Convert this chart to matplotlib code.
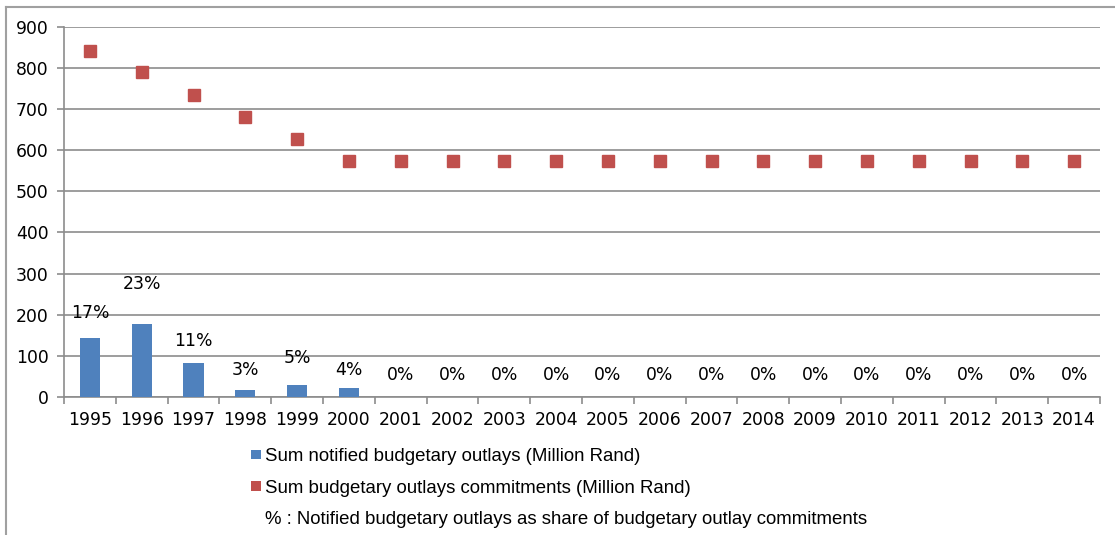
import matplotlib
matplotlib.use("Agg")
import matplotlib.pyplot as plt
from matplotlib.patches import Patch
from matplotlib.lines import Line2D

# Data
years = [str(y) for y in range(1995, 2015)]
notified = [144, 178, 83, 17, 28, 21, 0, 0, 0, 0, 0, 0, 0, 0, 0, 0, 0, 0, 0, 0]
commitments = [842, 789, 735, 681, 628, 573, 573, 573, 573, 573,
               573, 573, 573, 573, 573, 573, 573, 573, 573, 573]
share_labels = ["17%", "23%", "11%", "3%", "5%", "4%", "0%", "0%", "0%", "0%",
                "0%", "0%", "0%", "0%", "0%", "0%", "0%", "0%", "0%", "0%"]
# height where each percentage label sits
label_y = [204, 275, 136, 66, 95, 66, 53, 53, 53, 53,
           53, 53, 53, 53, 53, 53, 53, 53, 53, 53]

blue = "#4F81BD"
red = "#C0504D"
grid_col = "#8C8C8C"
fs = 12.4

plt.rcParams['font.family'] = ['DejaVu Sans']
fig = plt.figure(figsize=(11.15, 5.35), dpi=100)
ax = fig.add_axes([64 / 1115, 1 - 397 / 535, (1100 - 64) / 1115, (397 - 26.7) / 535])

x = list(range(len(years)))
ax.bar(x, notified, width=0.39, color=blue, zorder=3)
ax.plot(x, commitments, linestyle="none", marker="s", markersize=8,
        color=red, zorder=4)

for xi, lab, ly in zip(x, share_labels, label_y):
    ax.text(xi, ly, lab, ha="center", va="center", fontsize=fs, zorder=5)

ax.set_xlim(-0.5, len(years) - 0.5)
ax.set_ylim(0, 900)
ax.set_yticks(range(0, 901, 100))
ax.yaxis.grid(True, color=grid_col, linewidth=1.2, zorder=0)

ax.set_xticks([i - 0.5 for i in range(len(years) + 1)])
ax.set_xticklabels([])
ax.set_xticks(x, minor=True)
ax.set_xticklabels(years, minor=True)
ax.tick_params(axis="x", which="major", length=5, color=grid_col, width=1.2)
ax.tick_params(axis="x", which="minor", length=0, pad=10, labelsize=fs)
ax.tick_params(axis="y", length=5, color=grid_col, width=1.2, pad=6, labelsize=fs)

for side in ["top", "right"]:
    ax.spines[side].set_visible(False)
for side in ["left", "bottom"]:
    ax.spines[side].set_color(grid_col)
    ax.spines[side].set_linewidth(1.2)

handles = [Patch(facecolor=blue), Patch(facecolor=red), Patch(facecolor="none", edgecolor="none")]
labels = ["Sum notified budgetary outlays (Million Rand)",
          "Sum budgetary outlays commitments (Million Rand)",
          "% : Notified budgetary outlays as share of budgetary outlay commitments"]
fig.legend(handles, labels, loc="upper left", bbox_to_anchor=(251 / 1115, 1 - 448 / 535),
           frameon=False, handlelength=0.55, handleheight=0.42, handletextpad=0.22,
           labelspacing=0.78, borderaxespad=0, borderpad=0,
           prop={"family": ["Liberation Sans"], "size": 13.4})

# outer frame (top and left edges visible)
fig.add_artist(Line2D([6 / 1115, 1], [1 - 6.5 / 535, 1 - 6.5 / 535], color="#A0A0A0", linewidth=1.5))
fig.add_artist(Line2D([6 / 1115, 6 / 1115], [0, 1 - 6.5 / 535], color="#A0A0A0", linewidth=1.5))

fig.savefig("out.png", dpi=100)
